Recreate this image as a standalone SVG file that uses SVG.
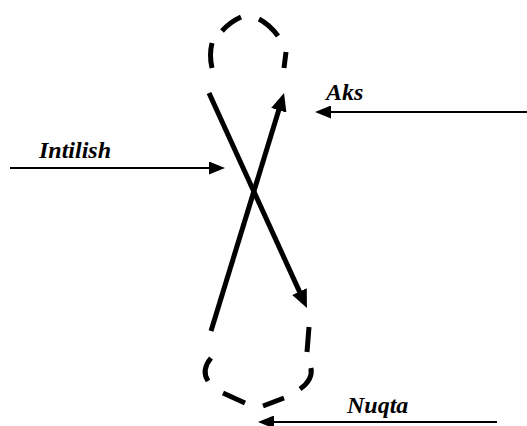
<svg xmlns="http://www.w3.org/2000/svg" width="527" height="426" viewBox="0 0 527 426">
<style>
.thick{fill:none;stroke:#000;stroke-width:5}
.thin{fill:none;stroke:#000;stroke-width:2}
.dash{fill:none;stroke:#000;stroke-width:5}
.lbl{font-family:"Liberation Serif","Times New Roman",serif;font-size:24px;font-weight:bold;font-style:italic;fill:#000}
</style>
<defs>
<marker id="bigHead" viewBox="0 0 18 16" refX="8" refY="8" markerWidth="18" markerHeight="16" orient="auto" markerUnits="userSpaceOnUse">
<path d="M0,0 L18,8 L0,16 z" fill="#000"/>
</marker>
<marker id="smallHead" viewBox="0 0 16 13" refX="12" refY="6.5" markerWidth="16" markerHeight="13" orient="auto" markerUnits="userSpaceOnUse">
<path d="M0,0 L16,6.5 L0,13 z" fill="#000"/>
</marker>
</defs>
<rect width="527" height="426" fill="#fff"/>
<g id="loop-top">
<path class="dash" d="M212 68 Q209 55 212 43"/>
<path class="dash" d="M222 31 Q230 22 241 17"/>
<path class="dash" d="M259 19 Q270 25 278 36"/>
<path class="dash" d="M286 52 L284 68"/>
</g>
<g id="loop-bottom">
<path class="dash" d="M309 327 L307 352"/>
<path class="dash" d="M211 358 Q201 370 208 381"/>
<path class="dash" d="M311 368 Q313 380 300 389"/>
<path class="dash" d="M223 393 L245 403"/>
<path class="dash" d="M263 406 L284 398"/>
</g>
<g id="connectors">
<path class="thick" d="M209 93 L302.8 298.9" marker-end="url(#bigHead)"/>
<path class="thick" d="M211 331 L281.1 102.6" marker-end="url(#bigHead)"/>
<path class="thin" d="M10 168 L221 168" marker-end="url(#smallHead)"/>
<path class="thin" d="M527 112 L319 112" marker-end="url(#smallHead)"/>
<path class="thin" d="M497 422 L262 422" marker-end="url(#smallHead)"/>
</g>
<g id="label-intilish"><text class="lbl" x="39" y="158">Intilish</text></g>
<g id="label-aks"><text class="lbl" x="326" y="100">Aks</text></g>
<g id="label-nuqta"><text class="lbl" x="347" y="413">Nuqta</text></g>
</svg>
